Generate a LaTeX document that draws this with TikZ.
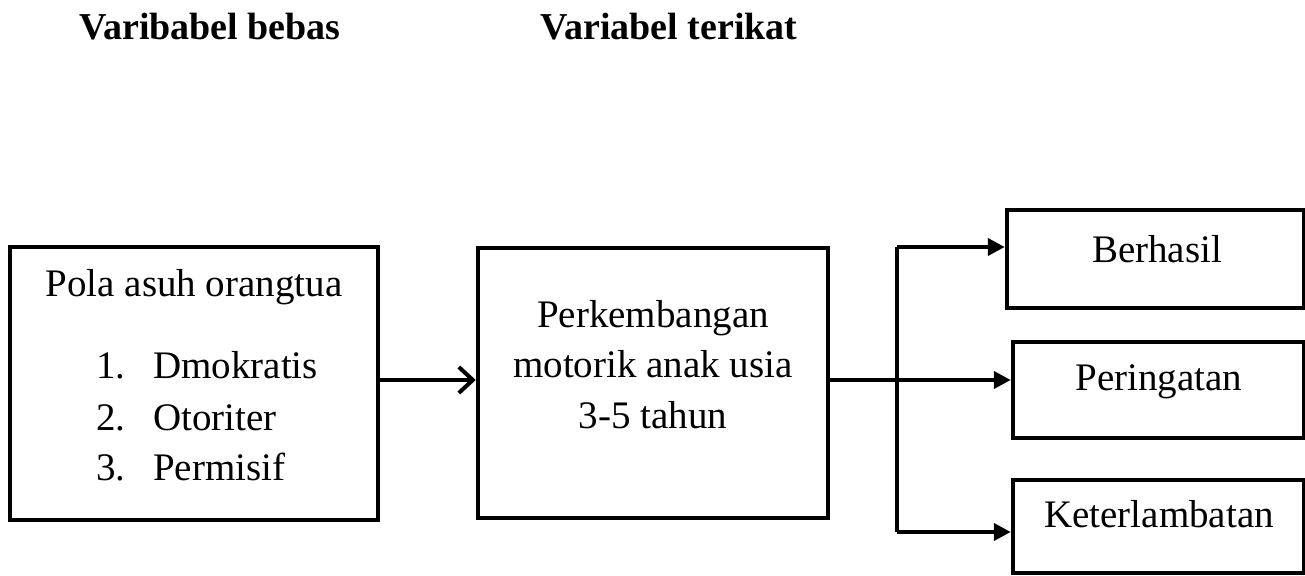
\documentclass[tikz,border=0pt]{standalone}
\usepackage{fontspec}
\setmainfont{Liberation Serif}
\usetikzlibrary{arrows.meta}
\begin{document}
\begin{tikzpicture}[x=1pt,y=-1pt,
  box/.style={draw,line width=4.5pt,inner sep=0pt,rectangle},
  txt/.style={anchor=base,inner sep=0pt,font=\fontsize{39}{46}\selectfont},
  txtw/.style={anchor=base west,inner sep=0pt,font=\fontsize{39}{46}\selectfont},
  ttl/.style={anchor=base west,inner sep=0pt,font=\fontsize{38}{44}\selectfont\bfseries},
  conn/.style={line width=4pt,line join=round},
  fillarrow/.style={conn,-{Triangle[length=17pt,width=17pt]}},
  openarrow/.style={conn,-{Straight Barb[length=14pt,width=26pt]}}]
\useasboundingbox (0,0) rectangle (1305,575);
% titles
\node[ttl] (t1) at (79,40) {Varibabel bebas};
\node[ttl] (t2) at (540,40) {Variabel terikat};
% boxes
\node[box,minimum width=368pt,minimum height=273pt] (b1) at (194,383.5) {};
\node[box,minimum width=350pt,minimum height=270pt] (b2) at (653,383) {};
\node[box,minimum width=297pt,minimum height=98pt] (b3) at (1155.5,259) {};
\node[box,minimum width=291pt,minimum height=96pt] (b4) at (1158.5,390) {};
\node[box,minimum width=291pt,minimum height=93pt] (b5) at (1158.5,526.5) {};
% box 1 text
\node[txt] (p0) at (194,296) {Pola asuh orangtua};
\node[txtw] (n1) at (96,378) {1.};
\node[txtw] (p1) at (153,378) {Dmokratis};
\node[txtw] (n2) at (96,430) {2.};
\node[txtw] (p2) at (153,430) {Otoriter};
\node[txtw] (n3) at (96,480) {3.};
\node[txtw] (p3) at (153,480) {Permisif};
% box 2 text
\node[txt] (q1) at (653,327) {Perkembangan};
\node[txt] (q2) at (653,377) {motorik anak usia};
\node[txt] (q3) at (653,428) {3-5 tahun};
% right boxes text
\node[txt] (r1) at (1157,262) {Berhasil};
\node[txt] (r2) at (1159,390) {Peringatan};
\node[txt] (r3) at (1159,527) {Keterlambatan};
% connectors
\coordinate (m1) at (378,380);
\coordinate (m2) at (828,380);
\coordinate (jt) at (897,247);
\coordinate (jb) at (897,532);
\draw[openarrow] (m1) -- (m1 -| b2.west);
\draw[fillarrow] (m2) -- (m2 -| b4.west);
\draw[conn] (jt) -- (jb);
\draw[fillarrow] (jt) -- (jt -| b3.west);
\draw[fillarrow] (jb) -- (jb -| b5.west);
\end{tikzpicture}
\end{document}
